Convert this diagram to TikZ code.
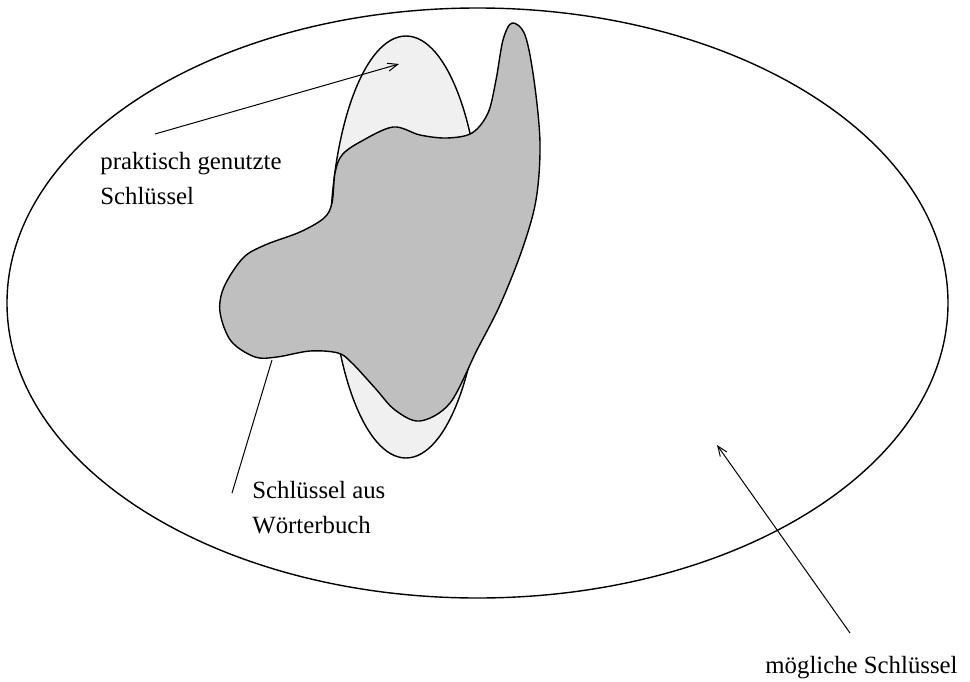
\documentclass[tikz,border=0pt]{standalone}
\usepackage{fontspec}
\setmainfont{Liberation Serif}
\usetikzlibrary{arrows.meta}
\begin{document}
\begin{tikzpicture}[x=0.5pt,y=-0.5pt,
  outline/.style={draw=black,line width=0.7pt},
  pointer/.style={draw=black,line width=0.5pt},
  lbl/.style={font=\fontsize{12.4}{17.5}\selectfont,inner sep=0pt,align=left,anchor=base west},
  tipv/.style={-{Straight Barb[length=5pt,width=4pt]}}]
\useasboundingbox (0,0) rectangle (970,681);
% possible keys
\draw[outline] (477.5,303) ellipse [x radius=470.5, y radius=295];
% practically used keys
\draw[outline,fill={rgb,255:red,240;green,240;blue,240}] (406,247) ellipse [x radius=76, y radius=211];
% dictionary keys
\draw[outline,fill={rgb,255:red,191;green,191;blue,191}] plot[smooth cycle,tension=0.55] coordinates {
 (393,127) (420,135) (447,138) (472,133) (488,113) (496,80) (503,40) (512,23)
 (525,35) (534,80) (540,143) (536,200) (522,250) (500,305) (477,350)
 (450,403) (420,421) (395,410) (375,388) (352,363) (338,353) (310,351)
 (277,357) (255,357) (231,341) (220,312) (224,287) (243,258) (265,245)
 (300,232) (324,218) (332,203) (335,173) (342,155) (360,142)};
% labels (base anchor = baseline of last line)
\node[lbl] (pg) at (100,204) {praktisch genutzte\\Schlüssel};
\node[lbl] (sw) at (252,533) {Schlüssel aus\\Wörterbuch};
\node[lbl] (ms) at (765,673) {mögliche Schlüssel};
% pointers
\coordinate (pgs) at (155,134);
\coordinate (pge) at (399,64);
\coordinate (sws) at (232,493);
\coordinate (swe) at (272,360);
\coordinate (mss) at (850,633);
\coordinate (mse) at (717,445);
\draw[pointer,tipv] (pgs) -- (pge);
\draw[pointer] (sws) -- (swe);
\draw[pointer,tipv] (mss) -- (mse);
\end{tikzpicture}
\end{document}
